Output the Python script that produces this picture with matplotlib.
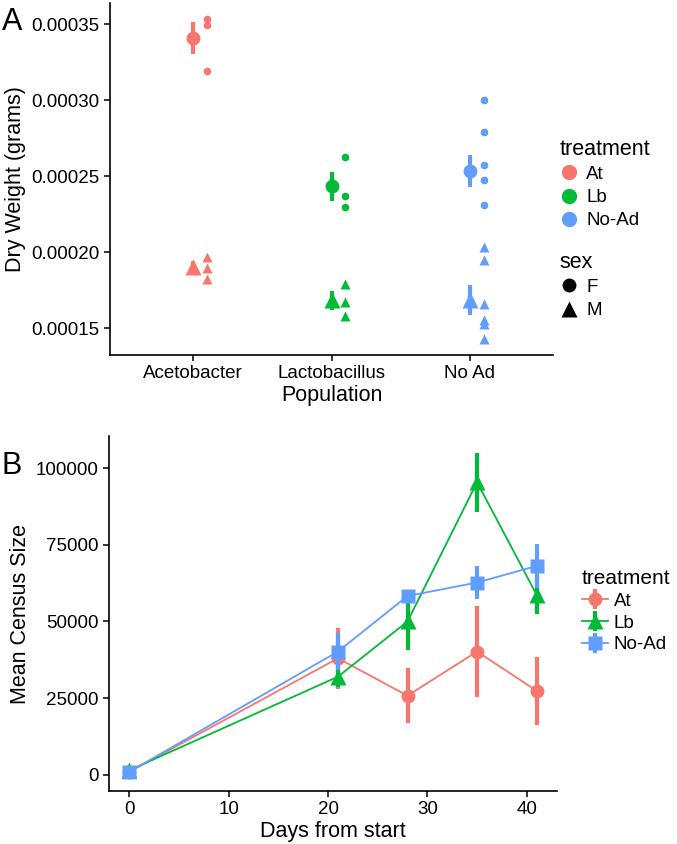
import numpy as np
import matplotlib.pyplot as plt
from matplotlib.lines import Line2D

plt.rcParams['font.family'] = ['Liberation Sans', 'DejaVu Sans']
plt.rcParams['axes.unicode_minus'] = True

colors = ['#F8766D', '#00BA38', '#619CFF']

# panel A: dry weight
populations = ['Acetobacter', 'Lactobacillus', 'No Ad']
treat_a = ['At', 'Lb', 'No-Ad']
fem_points = [[0.0003533, 0.0003493, 0.0003191],
              [0.0002627, 0.0002373, 0.0002298],
              [0.0003000, 0.0002791, 0.0002572, 0.0002474, 0.0002309]]
male_points = [[0.0001970, 0.0001897, 0.0001827],
               [0.0001794, 0.0001673, 0.0001579],
               [0.0002035, 0.0001947, 0.0001663, 0.0001557, 0.0001526, 0.0001432]]
fem_mean = [0.0003406, 0.0002434, 0.0002535]
fem_se = [0.0000105, 0.0000095, 0.0000103]
male_mean = [0.0001903, 0.0001684, 0.0001684]
male_se = [0.0000041, 0.0000062, 0.0000099]

# panel B: census
days = [0, 21, 28, 35, 41]
treat_b = ['At', 'Lb', 'No-Ad']
census = [[1000, 38000, 25800, 40200, 27400],
          [1500, 32000, 50000, 95400, 58700],
          [1000, 40200, 58300, 62700, 68100]]
census_se = [[500, 10000, 9000, 14700, 11000],
             [500, 3500, 9300, 9600, 6200],
             [500, 6000, 2000, 5400, 7200]]
markers_b = ['o', '^', 's']

fig = plt.figure(figsize=(6.77, 8.44), dpi=100)
W, H = 677, 844

def px_axes(l, t, r, b):
    return fig.add_axes([l / W, 1 - b / H, (r - l) / W, (b - t) / H])

def style(ax):
    for s in ['top', 'right']:
        ax.spines[s].set_visible(False)
    for s in ['left', 'bottom']:
        ax.spines[s].set_linewidth(1.2)
    ax.tick_params(direction='out', length=4, width=1.1, labelsize=13.5, colors='black')

# ---- A
axA = px_axes(110, 3, 553, 355)
xpos = np.arange(1, 4)
for i in range(3):
    c = colors[i]
    axA.plot([xpos[i] + 0.1] * len(fem_points[i]), fem_points[i], 'o', color=c, ms=5.5, mec='none')
    axA.plot([xpos[i] + 0.1] * len(male_points[i]), male_points[i], '^', color=c, ms=6.5, mec='none')
    axA.errorbar(xpos[i], fem_mean[i], yerr=fem_se[i], fmt='o', color=c, ms=10, mec='none', elinewidth=3, capsize=0)
    axA.errorbar(xpos[i], male_mean[i], yerr=male_se[i], fmt='^', color=c, ms=12, mec='none', elinewidth=3, capsize=0)
axA.set_xlim(0.4, 3.6)
axA.set_ylim(0.0001325, 0.0003638)
axA.set_xticks(xpos)
axA.set_xticklabels(populations)
axA.set_yticks([0.00015, 0.00020, 0.00025, 0.00030, 0.00035])
axA.set_yticklabels(['0.00015', '0.00020', '0.00025', '0.00030', '0.00035'])
axA.set_xlabel('Population', fontsize=15.5, labelpad=2)
axA.set_ylabel('Dry Weight (grams)', fontsize=15.5)
axA.yaxis.set_label_coords(-0.19, 0.5)
style(axA)

hA = [Line2D([], [], ls='none', marker='o', color=colors[i], ms=11, mec='none') for i in range(3)]
fig.legend(hA, treat_a, title='treatment', loc='upper left', bbox_to_anchor=(543 / W, 1 - 122 / H),
           frameon=False, fontsize=13.5, title_fontsize=15.5, handlelength=1.0, handletextpad=0.4,
           labelspacing=0.32, alignment='left')
hS = [Line2D([], [], ls='none', marker='o', color='black', ms=10, mec='none'),
      Line2D([], [], ls='none', marker='^', color='black', ms=11, mec='none')]
fig.legend(hS, ['F', 'M'], title='sex', loc='upper left', bbox_to_anchor=(543 / W, 1 - 235 / H),
           frameon=False, fontsize=13.5, title_fontsize=15.5, handlelength=1.0, handletextpad=0.4,
           labelspacing=0.32, alignment='left')

# ---- B
axB = px_axes(109, 436, 557, 791)
for i in range(3):
    axB.errorbar(days, census[i], yerr=census_se[i], fmt='none', ecolor=colors[i], elinewidth=3, capsize=0, zorder=2 + i)
    axB.plot(days, census[i], '-', color=colors[i], lw=1.3, zorder=2 + i)
    axB.plot(days, census[i], markers_b[i], color=colors[i], ms=10 if i != 1 else 12, mec='none', zorder=2.5 + i)
axB.set_xlim(-2.05, 43.05)
axB.set_ylim(-5260, 110460)
axB.set_xticks([0, 10, 20, 30, 40])
axB.set_yticks([0, 25000, 50000, 75000, 100000])
axB.set_yticklabels(['0', '25000', '50000', '75000', '100000'])
axB.set_xlabel('Days from start', fontsize=15.5, labelpad=2)
axB.set_ylabel('Mean Census Size', fontsize=15.5)
axB.yaxis.set_label_coords(-0.174, 0.5)
style(axB)

hB = [(Line2D([], [], color=colors[i], lw=1.3, marker=markers_b[i], ms=10 if i != 1 else 12, mec='none'),
       Line2D([], [], ls='none', color=colors[i], marker='|', ms=14, mew=3)) for i in range(3)]
fig.legend(hB, treat_b, title='treatment', loc='upper left', bbox_to_anchor=(565 / W, 1 - 552 / H),
           frameon=False, fontsize=13.5, title_fontsize=15, handlelength=1.4, handletextpad=0.3,
           labelspacing=0.25, alignment='left')

fig.text(2 / W, 1 - 7 / H, 'A', fontsize=22, va='top', ha='left')
fig.text(2 / W, 1 - 451 / H, 'B', fontsize=22, va='top', ha='left')

plt.savefig('out.png', dpi=100)
